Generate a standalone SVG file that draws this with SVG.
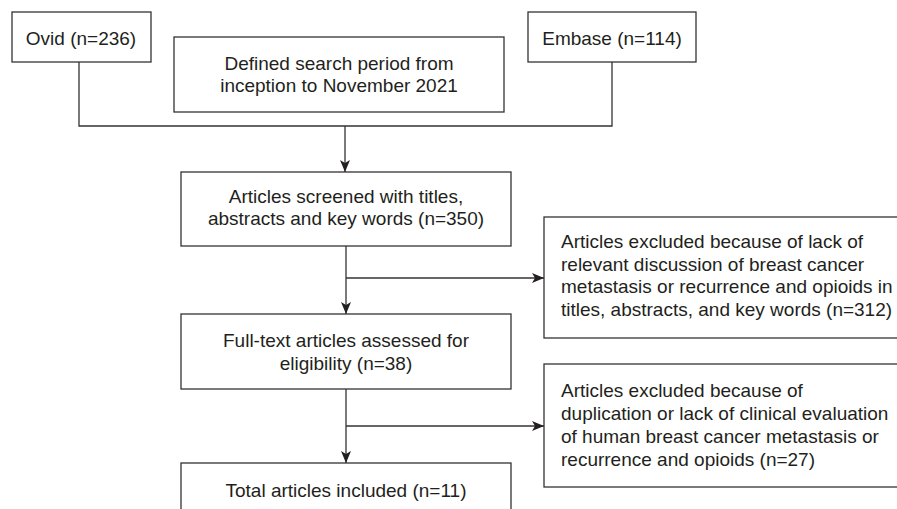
<svg xmlns="http://www.w3.org/2000/svg" width="897" height="509" viewBox="0 0 897 509">
<style>
.box{fill:#fff;stroke:#333;stroke-width:1.3}
.t{font-family:"Liberation Sans",Arial,sans-serif;font-size:19px;fill:#231f20}
.c{text-anchor:middle}
.ln{fill:none;stroke:#333;stroke-width:1.3}
</style>
<defs>
<marker id="ah" markerWidth="12" markerHeight="10" refX="12" refY="5" orient="auto" markerUnits="userSpaceOnUse">
<path d="M0,0 L12,5 L0,10 L3,5 Z" fill="#231f20"/>
</marker>
</defs>
<rect width="897" height="509" fill="#fff"/>
<g id="connectors">
<path class="ln" d="M79,62 V126 H612 V62"/>
<path class="ln" d="M345,126 V172" marker-end="url(#ah)"/>
<path class="ln" d="M346,246 V314" marker-end="url(#ah)"/>
<path class="ln" d="M346,278 H544" marker-end="url(#ah)"/>
<path class="ln" d="M346,389 V463" marker-end="url(#ah)"/>
<path class="ln" d="M346,426 H544" marker-end="url(#ah)"/>
</g>
<g id="ovid">
<rect class="box" x="12" y="12" width="139" height="50"/>
<text class="t c" x="81" y="45">Ovid (n=236)</text>
</g>
<g id="embase">
<rect class="box" x="528" y="12" width="168" height="50"/>
<text class="t c" x="612" y="45">Embase (n=114)</text>
</g>
<g id="period">
<rect class="box" x="174" y="37" width="330" height="75"/>
<text class="t c" x="339" y="70">Defined search period from</text>
<text class="t c" x="339" y="92">inception to November 2021</text>
</g>
<g id="screened">
<rect class="box" x="181" y="172" width="330" height="74"/>
<text class="t c" x="346" y="203">Articles screened with titles,</text>
<text class="t c" x="346" y="225">abstracts and key words (n=350)</text>
</g>
<g id="excluded1">
<rect class="box" x="544" y="217" width="360" height="121"/>
<text class="t" x="561" y="248">Articles excluded because of lack of</text>
<text class="t" x="561" y="271">relevant discussion of breast cancer</text>
<text class="t" x="561" y="293">metastasis or recurrence and opioids in</text>
<text class="t" x="561" y="316">titles, abstracts, and key words (n=312)</text>
</g>
<g id="fulltext">
<rect class="box" x="181" y="314" width="330" height="75"/>
<text class="t c" x="346" y="347">Full-text articles assessed for</text>
<text class="t c" x="346" y="370">eligibility (n=38)</text>
</g>
<g id="excluded2">
<rect class="box" x="544" y="364" width="360" height="123"/>
<text class="t" x="561" y="397">Articles excluded because of</text>
<text class="t" x="561" y="420">duplication or lack of clinical evaluation</text>
<text class="t" x="561" y="443">of human breast cancer metastasis or</text>
<text class="t" x="561" y="466">recurrence and opioids (n=27)</text>
</g>
<g id="total">
<rect class="box" x="181" y="463" width="330" height="60"/>
<text class="t c" x="346" y="497">Total articles included (n=11)</text>
</g>
</svg>
